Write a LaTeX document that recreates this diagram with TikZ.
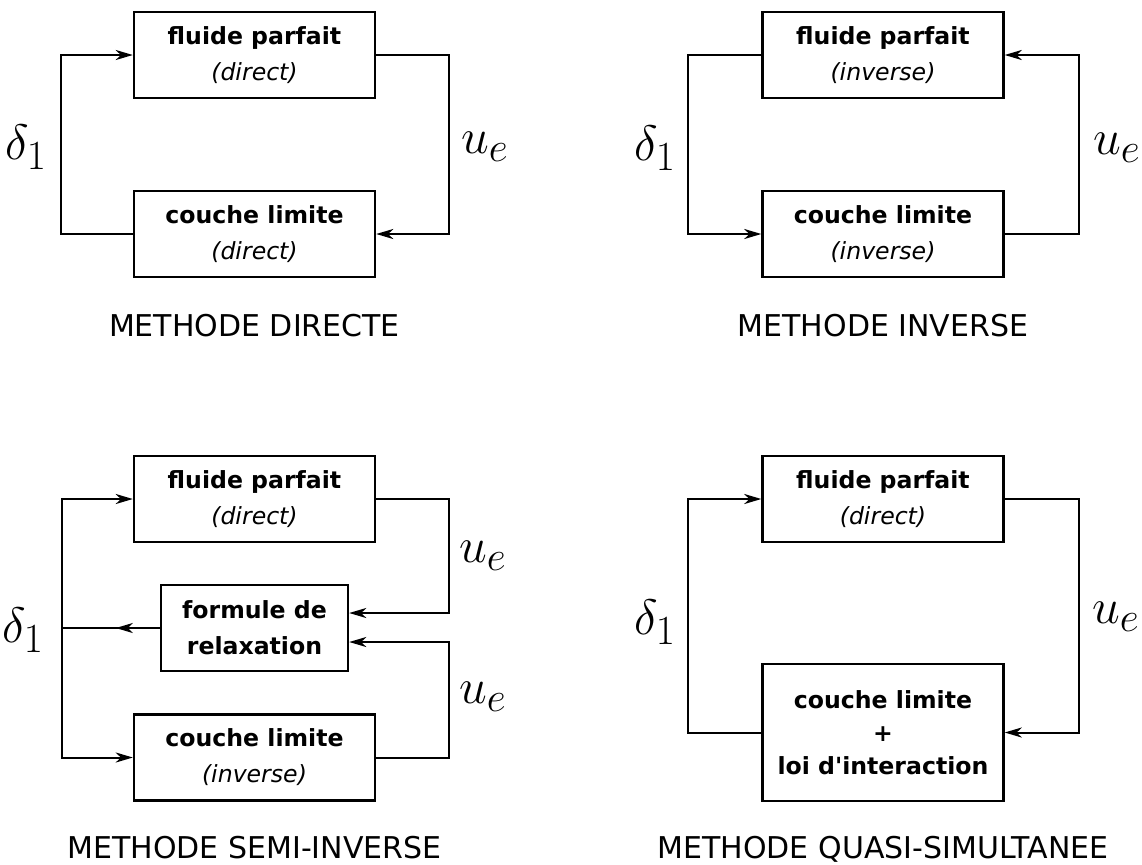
\documentclass[tikz,border=0pt]{standalone}
\usepackage[no-math]{fontspec}
\setmainfont{DejaVu Sans}
\usepackage{tikz}
\usetikzlibrary{arrows.meta, positioning, calc}

\begin{document}
\begin{tikzpicture}[
    x=0.5pt, y=-0.5pt,
    block/.style={draw, line width=1.2pt, minimum width=120.5pt, minimum height=43pt, inner sep=0pt, align=center, font=\fontsize{11.8pt}{18pt}\selectfont},
    flow/.style={line width=1pt, -{Stealth[length=8.5pt, width=5pt, inset=2.5pt]}},
    wire/.style={line width=1pt},
    var/.style={font=\Huge, inner sep=0pt},
    caption/.style={anchor=base, font=\fontsize{15pt}{18pt}\selectfont}
]
    \useasboundingbox (0,0) rectangle (1142,864);

    % Methode directe
    \node[block] (fp1) at (254.5,55) {\textbf{fluide parfait}\\\textit{(direct)}};
    \node[block] (cl1) at (254.5,234) {\textbf{couche limite}\\\textit{(direct)}};
    \draw[flow] (fp1.east) -- ++(73,0) |- (cl1.east);
    \draw[flow] (cl1.west) -- ++(-72,0) |- (fp1.west);
    \node[var] (d1) at (26,147) {$\delta_1$};
    \node[var] (u1) at (485,147) {$u_e$};
    \node[caption] (t1) at (254.5,336) {METHODE DIRECTE};

    % Methode inverse
    \node[block] (fp2) at (883,55) {\textbf{fluide parfait}\\\textit{(inverse)}};
    \node[block] (cl2) at (883,234) {\textbf{couche limite}\\\textit{(inverse)}};
    \draw[flow] (fp2.west) -- ++(-73,0) |- (cl2.west);
    \draw[flow] (cl2.east) -- ++(74,0) |- (fp2.east);
    \node[var] (d2) at (655,148) {$\delta_1$};
    \node[var] (u2) at (1117,148) {$u_e$};
    \node[caption] (t2) at (883,336) {METHODE INVERSE};

    % Methode semi-inverse
    \node[block] (fp3) at (254.5,499) {\textbf{fluide parfait}\\\textit{(direct)}};
    \node[block, minimum width=93.5pt] (rx3) at (254.5,628) {\textbf{formule de}\\\textbf{relaxation}};
    \node[block] (cl3) at (254.5,757.5) {\textbf{couche limite}\\\textit{(inverse)}};
    \coordinate (j3) at (62,628);
    \draw[flow] (fp3.east) -- ++(73,0) |- ([yshift=7.5pt]rx3.east);
    \draw[flow] (cl3.east) -- ++(73,0) |- ([yshift=-7pt]rx3.east);
    \draw[wire] (rx3.west) -- (j3);
    \draw[flow] (rx3.west) -- ($(rx3.west)!0.45!(j3)$);
    \draw[flow] (j3) |- (fp3.west);
    \draw[flow] (j3) |- (cl3.west);
    \node[var] (d3) at (23,630) {$\delta_1$};
    \node[var] (u3a) at (483,556) {$u_e$};
    \node[var] (u3b) at (483,697) {$u_e$};
    \node[caption] (t3) at (254.5,858) {METHODE SEMI-INVERSE};

    % Methode quasi-simultanee
    \node[block] (fp4) at (883,499) {\textbf{fluide parfait}\\\textit{(direct)}};
    \node[block, minimum height=68.5pt, font=\fontsize{11.8pt}{16.5pt}\selectfont] (cl4) at (883,732.5) {\textbf{couche limite}\\\textbf{+}\\\textbf{loi d\textquotesingle interaction}};
    \draw[flow] (fp4.east) -- ++(74,0) |- (cl4.east);
    \draw[flow] (cl4.west) -- ++(-73,0) |- (fp4.west);
    \node[var] (d4) at (655,622) {$\delta_1$};
    \node[var] (u4) at (1116,617) {$u_e$};
    \node[caption] (t4) at (883,858) {METHODE QUASI-SIMULTANEE};
\end{tikzpicture}
\end{document}
